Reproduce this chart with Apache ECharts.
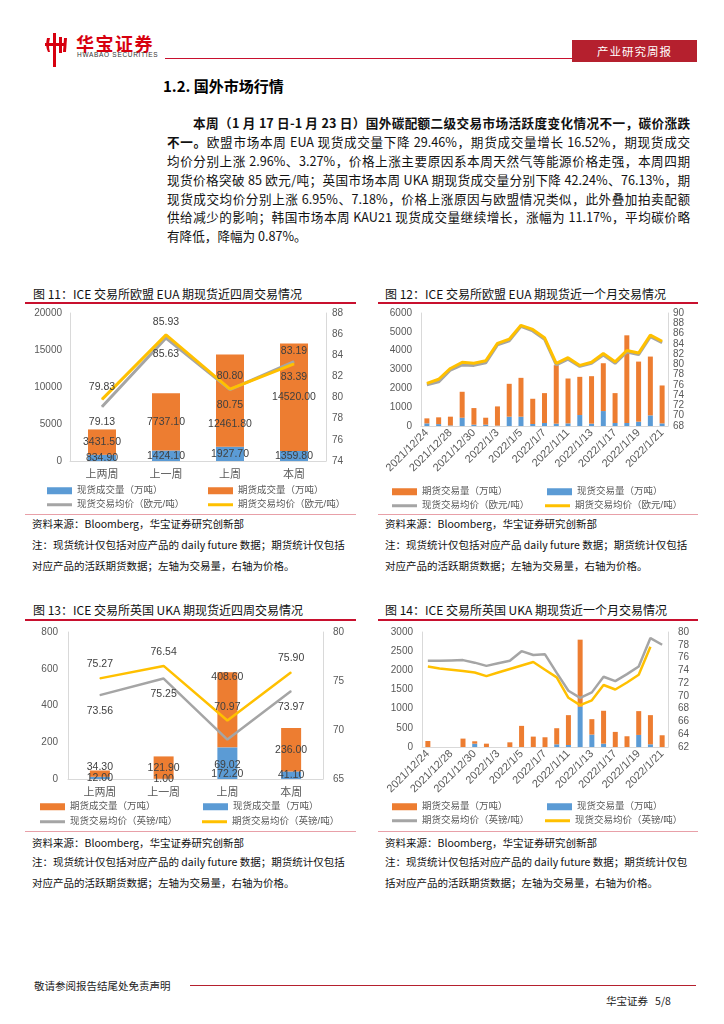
<!DOCTYPE html>
<html><head><meta charset="utf-8">
<script src="https://cdn.jsdelivr.net/npm/echarts@6/dist/echarts.min.js"></script>
<style>
body{margin:0;width:724px;height:1024px;position:relative;background:#fff;font-family:"Noto Sans CJK SC","Liberation Sans",sans-serif;color:#000;overflow:hidden}
.a{position:absolute;white-space:nowrap}
.redline{position:absolute;height:2px;background:#C8102E}
.pline{position:absolute;height:1px;background:#E8A0A8}
.ft{font-size:12px;color:#111}
.src{font-size:10.5px;color:#111}
.para{position:absolute;left:167px;width:523px;font-size:12.6px;text-align:justify;text-align-last:justify;white-space:nowrap;color:#111}
.chart{position:absolute}
</style></head><body>

<!-- header -->
<svg class="a" style="left:44px;top:32px" width="24" height="36" viewBox="0 0 24 36">
 <path d="M3 6 Q1 14 4 20 L6 20 Q4 14 6 6 Z" fill="#D7000F"/>
 <rect x="9" y="1" width="3" height="34" fill="#D7000F"/>
 <rect x="15" y="5" width="3" height="16" fill="#D7000F"/>
 <rect x="1" y="11" width="21" height="3" fill="#D7000F"/>
 <path d="M20 6 L23 6 L22 20 L19 20 Z" fill="#D7000F"/>
</svg>
<div class="a" style="left:76px;top:30px;font-size:18px;font-weight:bold;color:#D7000F;letter-spacing:1.5px">华宝证券</div>
<div class="a" style="left:77px;top:51px;font-size:6.5px;color:#333;letter-spacing:0.7px;font-family:'Liberation Sans'">HWABAO SECURITIES</div>
<div class="a" style="left:165px;top:58px;width:408px;height:1px;background:#C8102E"></div>
<div class="a" style="left:572px;top:40px;width:125px;height:22px;background:#B5202E;color:#fff;font-size:11.5px;line-height:22px;text-align:center;letter-spacing:1px">产业研究周报</div>

<!-- section -->
<div class="a" style="left:163px;top:75px;font-size:15px;font-weight:bold;color:#000">1.2. 国外市场行情</div>
<div class="para" style="top:113px;left:193px;width:497px;font-weight:bold">本周（1 月 17 日-1 月 23 日）国外碳配额二级交易市场活跃度变化情况不一，碳价涨跌</div>
<div class="para" style="top:132px"><b>不一。</b>欧盟市场本周 EUA 现货成交量下降 29.46%，期货成交量增长 16.52%，期现货成交</div>
<div class="para" style="top:151px">均价分别上涨 2.96%、3.27%，价格上涨主要原因系本周天然气等能源价格走强，本周四期</div>
<div class="para" style="top:170px">现货价格突破 85 欧元/吨；英国市场本周 UKA 期现货成交量分别下降 42.24%、76.13%，期</div>
<div class="para" style="top:189px">现货成交均价分别上涨 6.95%、7.18%，价格上涨原因与欧盟情况类似，此外叠加拍卖配额</div>
<div class="para" style="top:207px">供给减少的影响；韩国市场本周 KAU21 现货成交量继续增长，涨幅为 11.17%，平均碳价略</div>
<div class="para" style="top:226px;text-align-last:left">有降低，降幅为 0.87%。</div>

<!-- figure titles -->
<div class="a ft" style="left:33px;top:285px">图 11：ICE 交易所欧盟 EUA 期现货近四周交易情况</div>
<div class="a ft" style="left:385px;top:285px">图 12：ICE 交易所欧盟 EUA 期现货近一个月交易情况</div>
<div class="redline" style="left:25px;top:302px;width:331px"></div>
<div class="redline" style="left:378px;top:302px;width:320px"></div>
<div class="pline" style="left:25px;top:514px;width:331px"></div>
<div class="pline" style="left:378px;top:514px;width:320px"></div>

<div id="c11" class="chart" style="left:20px;top:305px;width:340px;height:208px"></div>
<div id="c12" class="chart" style="left:370px;top:305px;width:340px;height:208px"></div>

<div class="a src" style="left:32px;top:516px">资料来源：Bloomberg，华宝证券研究创新部</div>
<div class="a src" style="left:32px;top:537px">注：现货统计仅包括对应产品的 daily future 数据；期货统计仅包括</div>
<div class="a src" style="left:32px;top:558px">对应产品的活跃期货数据；左轴为交易量，右轴为价格。</div>
<div class="a src" style="left:385px;top:516px">资料来源：Bloomberg，华宝证券研究创新部</div>
<div class="a src" style="left:385px;top:537px">注：现货统计仅包括对应产品 daily future 数据；期货统计仅包括</div>
<div class="a src" style="left:385px;top:558px">对应产品的活跃期货数据；左轴为交易量，右轴为价格。</div>

<div class="a ft" style="left:33px;top:601px">图 13：ICE 交易所英国 UKA 期现货近四周交易情况</div>
<div class="a ft" style="left:385px;top:601px">图 14：ICE 交易所英国 UKA 期现货近一个月交易情况</div>
<div class="redline" style="left:25px;top:619px;width:331px"></div>
<div class="redline" style="left:378px;top:619px;width:320px"></div>
<div class="pline" style="left:25px;top:831px;width:331px"></div>
<div class="pline" style="left:378px;top:831px;width:320px"></div>

<div id="c13" class="chart" style="left:20px;top:622px;width:340px;height:208px"></div>
<div id="c14" class="chart" style="left:370px;top:622px;width:340px;height:208px"></div>

<div class="a src" style="left:32px;top:835px">资料来源：Bloomberg，华宝证券研究创新部</div>
<div class="a src" style="left:32px;top:854px">注：现货统计仅包括对应产品的 daily future 数据；期货统计仅包括</div>
<div class="a src" style="left:32px;top:875px">对应产品的活跃期货数据；左轴为交易量，右轴为价格。</div>
<div class="a src" style="left:385px;top:835px">资料来源：Bloomberg，华宝证券研究创新部</div>
<div class="a src" style="left:385px;top:854px">注：现货统计仅包括对应产品的 daily future 数据；期货统计仅包</div>
<div class="a src" style="left:385px;top:875px">括对应产品的活跃期货数据；左轴为交易量，右轴为价格。</div>

<!-- footer -->
<div class="a" style="left:34px;top:978px;font-size:10.5px;color:#222">敬请参阅报告结尾处免责声明</div>
<div class="a" style="left:190px;top:985px;width:506px;height:1px;background:#B5202E"></div>
<div class="a" style="left:606px;top:993px;font-size:10.5px;color:#222">华宝证券&nbsp;&nbsp;&nbsp;5/8</div>

<script>
// ---------- data ----------
const weekCats = ['上两周', '上一周', '上周', '本周'];
// Fig 11 (EUA, four weeks)
const euaWkSpot = [834.90, 1424.10, 1927.70, 1359.80];
const euaWkFut = [3431.50, 7737.10, 12461.80, 14520.00];
const euaWkSpotPx = [79.13, 85.63, 80.75, 83.39];
const euaWkFutPx = [79.83, 85.93, 80.80, 83.19];
// Fig 13 (UKA, four weeks)
const ukaWkFut = [34.30, 121.90, 408.60, 236.00];
const ukaWkSpot = [12.00, 1.00, 172.20, 41.10];
const ukaWkSpotPx = [73.56, 75.25, 69.02, 73.97];
const ukaWkFutPx = [75.27, 76.54, 70.97, 75.90];
// Daily dates (Fig 12 & 14)
const dayCats = ['2021/12/24','2021/12/27','2021/12/28','2021/12/29','2021/12/30','2021/12/31',
  '2022/1/3','2022/1/4','2022/1/5','2022/1/6','2022/1/7','2022/1/10','2022/1/11','2022/1/12',
  '2022/1/13','2022/1/14','2022/1/17','2022/1/18','2022/1/19','2022/1/20','2022/1/21'];
// Fig 12 (EUA daily)
const euaDaySpot = [140,100,30,440,70,70,20,494,494,105,160,125,140,582,125,794,160,160,230,565,140];
const euaDayFut = [265,360,465,1377,882,370,1020,1746,2063,1341,1586,3105,2382,2028,2520,2539,1586,4655,3190,3121,2012];
const euaDaySpotPx = [76.0,76.6,78.9,79.9,79.8,80.3,83.8,84.6,87.4,86.5,84.9,79.9,81.0,79.6,80.2,81.8,80.2,82.4,81.9,85.4,84.2];
const euaDayFutPx = [76.3,77.1,79.2,80.4,80.2,80.7,84.1,84.9,87.6,86.8,85.2,80.2,81.3,79.8,80.4,82.1,80.5,82.7,82.2,85.7,84.5];
// Fig 14 (UKA daily)
const ukaDayFut = [157,0,0,219,62,87,0,122,551,271,254,420,779,1750,402,858,394,280,621,761,306];
const ukaDaySpot = [0,0,0,0,87,0,0,0,0,0,0,70,52,1050,324,87,0,0,315,70,0];
const ukaDayFutPx = [75.5,75.5,75.55,75.6,75.2,74.7,75.1,75.5,77.0,76.4,76.5,73.6,70.8,69.7,70.55,73.0,72.3,73.4,74.6,79.05,78.0];
const ukaDaySpotPx = [74.6,74.3,74.1,73.9,73.65,73.1,73.65,74.2,74.75,75.3,74.1,72.9,69.7,68.55,69.3,71.7,71.0,72.1,73.3,77.7,null];

// ---------- styling helpers ----------
const TXT = '#595959', LBL = '#404040', AX = '#D9D9D9';
const FONT = "'Liberation Sans','Noto Sans CJK SC',sans-serif";
const BLUE = '#5B9BD5', ORANGE = '#ED7D31', GRAY = '#A5A5A5', YELLOW = '#FFC000';

function leg(name, left, top, isLine) {
  return { data: [name], left: left, top: top, padding: 0, icon: 'rect',
    itemWidth: 25, itemHeight: isLine ? 3 : 7, itemGap: 4,
    textStyle: { color: TXT, fontSize: 9.5, fontFamily: FONT } };
}
function valAxis(min, max, interval, pos, fs, margin) {
  return { type: 'value', min: min, max: max, interval: interval, position: pos,
    axisLine: { show: true, lineStyle: { color: AX, width: 1 } }, axisTick: { show: false },
    splitLine: { show: false },
    axisLabel: { color: TXT, fontSize: fs, margin: margin, fontFamily: FONT, formatter: v => String(v) } };
}
function dateAxis() {
  return { type: 'category', data: dayCats, axisLine: { lineStyle: { color: AX } }, axisTick: { show: false },
    axisLabel: { color: TXT, fontSize: 11, margin: 5, rotate: 45, interval: 1, fontFamily: FONT } };
}
function withOffsets(vals, offs) {
  return vals.map((v, i) => offs[i] ? { value: v, label: { offset: offs[i] } } : v);
}
const fmt2 = p => Number(p.value).toFixed(2);

// ---------- Fig 11 ----------
echarts.init(document.getElementById('c11')).setOption({
  animation: false,
  grid: { left: 50, top: 8, width: 256, height: 148 },
  legend: [
    leg('现货成交量（万吨）', 27, 181, false), leg('期货成交量（万吨）', 188, 181, false),
    leg('现货交易均价（欧元/吨）', 27, 195, true), leg('期货交易均价（欧元/吨）', 188, 195, true)
  ],
  xAxis: { type: 'category', data: weekCats, axisLine: { lineStyle: { color: AX } }, axisTick: { show: false },
    axisLabel: { color: TXT, fontSize: 11, margin: 8, fontFamily: FONT } },
  yAxis: [valAxis(0, 20000, 5000, 'left', 10, 8), valAxis(74, 88, 2, 'right', 10, 6)],
  series: [
    { name: '现货成交量（万吨）', type: 'bar', stack: 'v', data: euaWkSpot, barWidth: 28,
      itemStyle: { color: BLUE },
      label: { show: true, position: 'inside', formatter: fmt2, color: LBL, fontSize: 10.5, fontFamily: FONT } },
    { name: '期货成交量（万吨）', type: 'bar', stack: 'v', data: withOffsets(euaWkFut, [null, null, [0, 23], null]),
      itemStyle: { color: ORANGE },
      label: { show: true, position: 'inside', formatter: fmt2, color: LBL, fontSize: 10.5, fontFamily: FONT } },
    { name: '现货交易均价（欧元/吨）', type: 'line', yAxisIndex: 1, data: euaWkSpotPx, symbol: 'circle', symbolSize: 1,
      lineStyle: { color: GRAY, width: 3 }, itemStyle: { color: GRAY },
      label: { show: true, position: 'bottom', distance: 10, formatter: fmt2, color: LBL, fontSize: 10.5, fontFamily: FONT } },
    { name: '期货交易均价（欧元/吨）', type: 'line', yAxisIndex: 1, data: euaWkFutPx, symbol: 'circle', symbolSize: 1,
      lineStyle: { color: YELLOW, width: 3 }, itemStyle: { color: YELLOW },
      label: { show: true, position: 'top', distance: 7, formatter: fmt2, color: LBL, fontSize: 10.5, fontFamily: FONT } }
  ]
});

// ---------- Fig 12 ----------
echarts.init(document.getElementById('c12')).setOption({
  animation: false,
  grid: { left: 51, top: 8, width: 247, height: 113 },
  legend: [
    leg('期货交易量（万吨）', 22, 182, false), leg('现货交易量（万吨）', 177, 182, false),
    leg('现货交易均价（欧元/吨）', 22, 196, true), leg('期货交易均价（欧元/吨）', 175, 196, true)
  ],
  xAxis: dateAxis(),
  yAxis: [valAxis(0, 6000, 1000, 'left', 10, 9), valAxis(68, 90, 2, 'right', 10, 5)],
  series: [
    { name: '现货交易量（万吨）', type: 'bar', stack: 'v', data: euaDaySpot, barWidth: 5, itemStyle: { color: BLUE } },
    { name: '期货交易量（万吨）', type: 'bar', stack: 'v', data: euaDayFut, barWidth: 5, itemStyle: { color: ORANGE } },
    { name: '现货交易均价（欧元/吨）', type: 'line', yAxisIndex: 1, data: euaDaySpotPx, symbol: 'none',
      lineStyle: { color: GRAY, width: 3 }, itemStyle: { color: GRAY } },
    { name: '期货交易均价（欧元/吨）', type: 'line', yAxisIndex: 1, data: euaDayFutPx, symbol: 'none',
      lineStyle: { color: YELLOW, width: 3 }, itemStyle: { color: YELLOW } }
  ]
});

// ---------- Fig 13 ----------
echarts.init(document.getElementById('c13')).setOption({
  animation: false,
  grid: { left: 48, top: 10, width: 255, height: 147 },
  legend: [
    leg('期货成交量（万吨）', 20, 180, false), leg('现货成交量（万吨）', 183, 180, false),
    leg('现货交易均价（英镑/吨）', 20, 195, true), leg('期货交易均价（英镑/吨）', 182, 195, true)
  ],
  xAxis: { type: 'category', data: weekCats, axisLine: { lineStyle: { color: AX } }, axisTick: { show: false },
    axisLabel: { color: TXT, fontSize: 11, margin: 8, fontFamily: FONT } },
  yAxis: [valAxis(0, 800, 200, 'left', 10, 10), valAxis(65, 80, 5, 'right', 10, 10)],
  series: [
    { name: '现货成交量（万吨）', type: 'bar', stack: 'v', data: withOffsets(ukaWkSpot, [null, null, [0, 11], null]), barWidth: 20,
      itemStyle: { color: BLUE },
      label: { show: true, position: 'inside', formatter: fmt2, color: LBL, fontSize: 10.5, fontFamily: FONT } },
    { name: '期货成交量（万吨）', type: 'bar', stack: 'v', data: withOffsets(ukaWkFut, [[0, -7], null, [0, -33], null]),
      itemStyle: { color: ORANGE },
      label: { show: true, position: 'inside', formatter: fmt2, color: LBL, fontSize: 10.5, fontFamily: FONT } },
    { name: '现货交易均价（英镑/吨）', type: 'line', yAxisIndex: 1, data: withOffsets(ukaWkSpotPx, [null, null, [0, 10], null]),
      symbol: 'circle', symbolSize: 1,
      lineStyle: { color: GRAY, width: 2.5 }, itemStyle: { color: GRAY },
      label: { show: true, position: 'bottom', distance: 10, formatter: fmt2, color: LBL, fontSize: 10.5, fontFamily: FONT } },
    { name: '期货交易均价（英镑/吨）', type: 'line', yAxisIndex: 1, data: ukaWkFutPx, symbol: 'circle', symbolSize: 1,
      lineStyle: { color: YELLOW, width: 2.5 }, itemStyle: { color: YELLOW },
      label: { show: true, position: 'top', distance: 8, formatter: fmt2, color: LBL, fontSize: 10.5, fontFamily: FONT } }
  ]
});

// ---------- Fig 14 ----------
echarts.init(document.getElementById('c14')).setOption({
  animation: false,
  grid: { left: 52, top: 10, width: 246, height: 115 },
  legend: [
    leg('期货交易量（万吨）', 22, 180, false), leg('现货交易量（万吨）', 177, 180, false),
    leg('期货交易均价（英镑/吨）', 22, 194, true), leg('现货交易均价（英镑/吨）', 175, 194, true)
  ],
  xAxis: dateAxis(),
  yAxis: [valAxis(0, 3000, 500, 'left', 10, 9), valAxis(62, 80, 2, 'right', 10, 10)],
  series: [
    { name: '现货交易量（万吨）', type: 'bar', stack: 'v', data: ukaDaySpot, barWidth: 5, itemStyle: { color: BLUE } },
    { name: '期货交易量（万吨）', type: 'bar', stack: 'v', data: ukaDayFut, barWidth: 5, itemStyle: { color: ORANGE } },
    { name: '期货交易均价（英镑/吨）', type: 'line', yAxisIndex: 1, data: ukaDayFutPx, symbol: 'none',
      lineStyle: { color: GRAY, width: 2.5 }, itemStyle: { color: GRAY } },
    { name: '现货交易均价（英镑/吨）', type: 'line', yAxisIndex: 1, data: ukaDaySpotPx, symbol: 'none',
      lineStyle: { color: YELLOW, width: 2.5 }, itemStyle: { color: YELLOW } }
  ]
});
</script>
</body></html>
